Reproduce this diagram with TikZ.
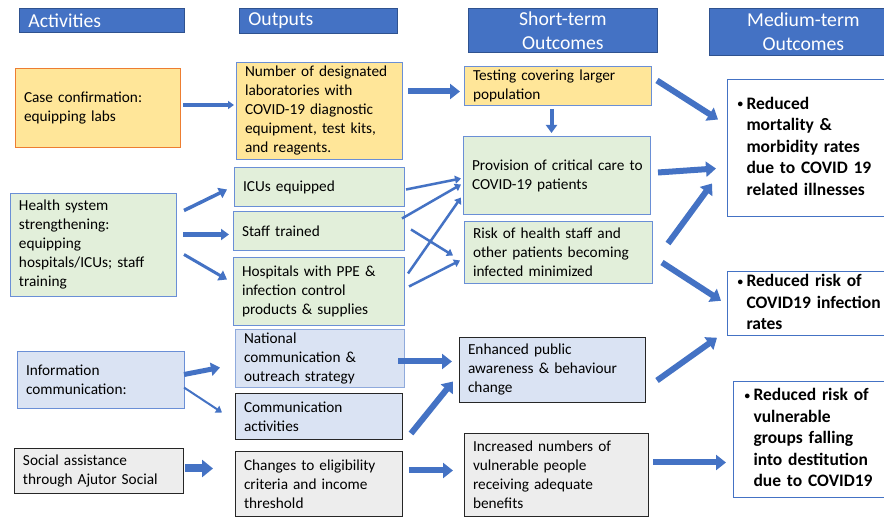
\documentclass[tikz,border=0pt]{standalone}
\usepackage{fontspec}
\setmainfont{Carlito}
\usetikzlibrary{arrows.meta}
\definecolor{hdrblue}{HTML}{4472C4}
\definecolor{hdrline}{HTML}{2F528F}
\definecolor{boxline}{HTML}{6A8FD6}
\definecolor{lightline}{HTML}{8FAADC}
\definecolor{darkline}{HTML}{262626}
\definecolor{labyellow}{HTML}{FFE699}
\definecolor{laborange}{HTML}{ED7D31}
\definecolor{hospgreen}{HTML}{E2EFDA}
\definecolor{infoblue}{HTML}{DAE3F3}
\definecolor{socgray}{HTML}{EDEDED}
\definecolor{arrblue}{HTML}{4472C4}
\newcommand{\smallbul}{\makebox[9pt][l]{\raisebox{1.5pt}{\fontsize{11}{11}\selectfont\textbullet}}}

\begin{document}
\begin{tikzpicture}[x=1pt,y=1pt,
header/.style={draw=hdrline,line width=0.8pt,fill=hdrblue,text=white,anchor=north west,inner xsep=9pt,inner ysep=0pt,font=\fontsize{19.7}{24}\selectfont},
card/.style={draw=boxline,line width=1pt,anchor=north west,inner xsep=8.5pt,inner ysep=0pt,align=left,font=\fontsize{15.3}{19}\selectfont},
result/.style={card,fill=white,draw=hdrblue,inner xsep=10pt,font=\fontsize{17.5}{21.5}\selectfont\bfseries},
thinarr/.style={draw=arrblue,line width=2.5pt,-{Triangle[length=6pt,width=8pt]}},
medarr/.style={draw=arrblue,line width=4pt,-{Triangle[length=8pt,width=11pt]}},
blkarr/.style={draw=arrblue,line width=6pt,-{Triangle[length=10pt,width=15pt]}},
bigarr/.style={draw=arrblue,line width=8pt,-{Triangle[length=11pt,width=17pt]}}]

\fill[white] (0,0) rectangle (884,517);
\useasboundingbox (0,0) rectangle (884,517);

%Headers
\node[header,minimum width=165pt,minimum height=24pt,text width=147pt,align=left] (hAct) at (19,509) {Activities};
\node[header,minimum width=158pt,minimum height=25pt,text width=140pt,align=left] (hOut) at (239,509) {Outputs};
\node[header,minimum width=189pt,minimum height=44pt,text width=171pt,align=center] (hShort) at (468,509) {Short-term\\Outcomes};
\node[header,minimum width=188pt,minimum height=47pt,text width=170pt,align=center] (hMed) at (709,509) {Medium-term\\Outcomes};

%Activities
\node[card,fill=labyellow,draw=laborange,minimum width=165pt,minimum height=79pt,text width=148pt] (caseconf) at (15,449) {Case confirmation:\\equipping labs};
\node[card,fill=hospgreen,minimum width=166pt,minimum height=103pt,text width=149pt] (hsys) at (10,324) {Health system\\strengthening:\\equipping\\hospitals/ICUs; staff\\training};
\node[card,fill=infoblue,minimum width=167pt,minimum height=57pt,text width=150pt] (infocom) at (17,166) {Information\\communication:};
\node[card,fill=socgray,draw=darkline,minimum width=169pt,minimum height=45pt,text width=152pt] (social) at (14,69) {Social assistance\\through Ajutor Social};

%Outputs
\node[card,fill=labyellow,minimum width=166pt,minimum height=97pt,text width=149pt] (labs) at (236,455) {Number of designated\\laboratories with\\COVID-19 diagnostic\\equipment, test kits,\\and reagents.};
\node[card,fill=hospgreen,minimum width=170pt,minimum height=39pt,text width=153pt] (icu) at (234,350) {ICUs equipped};
\node[card,fill=hospgreen,minimum width=171pt,minimum height=39pt,text width=154pt] (staff) at (233,306) {Staff trained};
\node[card,fill=hospgreen,minimum width=171pt,minimum height=68pt,text width=154pt] (ppe) at (233,260) {Hospitals with PPE \&\\infection control\\products \& supplies};
\node[card,fill=infoblue,draw=lightline,minimum width=169pt,minimum height=58pt,text width=152pt] (natcom) at (235,188) {National\\communication \&\\outreach strategy};
\node[card,fill=infoblue,draw=darkline,minimum width=167pt,minimum height=46pt,text width=150pt] (comact) at (235,124) {Communication\\activities};
\node[card,fill=socgray,draw=darkline,minimum width=167pt,minimum height=65pt,text width=150pt] (elig) at (235,66) {Changes to eligibility\\criteria and income\\threshold};

%Short-term outcomes
\node[card,fill=labyellow,minimum width=187pt,minimum height=39pt,text width=170pt] (testing) at (464,451) {Testing covering larger\\population};
\node[card,fill=hospgreen,minimum width=187pt,minimum height=78pt,text width=170pt] (care) at (463,381) {\mbox{Provision of critical care to}\\COVID-19 patients};
\node[card,fill=hospgreen,minimum width=188pt,minimum height=62pt,text width=171pt] (risk) at (464,296) {Risk of health staff and\\other patients becoming\\infected minimized};
\node[card,fill=infoblue,draw=darkline,minimum width=186pt,minimum height=65pt,text width=169pt] (aware) at (459,180) {Enhanced public\\awareness \& behaviour\\change};
\node[card,fill=socgray,draw=darkline,minimum width=184pt,minimum height=83pt,text width=167pt] (benefits) at (464,84) {Increased numbers of\\vulnerable people\\receiving adequate\\benefits};

%Medium-term outcomes
\node[result,minimum width=163pt,minimum height=137pt,text width=150pt] (mort) at (727,438) {\smallbul\begin{tabular}[t]{@{}l@{}}Reduced\\mortality \&\\morbidity rates\\due to COVID 19\\related illnesses\end{tabular}};
\node[result,minimum width=163pt,minimum height=60pt,text width=150pt] (infect) at (727,246) {\smallbul\begin{tabular}[t]{@{}l@{}}Reduced risk of\\COVID19 infection\\rates\end{tabular}};
\node[result,inner xsep=11pt,minimum width=157pt,minimum height=116pt,text width=140pt] (destit) at (733,136) {\smallbul\begin{tabular}[t]{@{}l@{}}Reduced risk of\\vulnerable\\groups falling\\into destitution\\due to COVID19\end{tabular}};

%Arrows into outputs
\draw[thinarr,line width=3.5pt] ([shift={(2,3)}]caseconf.east) -- ([shift={(-2,6)}]labs.west);
\draw[medarr,line width=3.5pt] ([shift={(7,34.5)}]hsys.east) -- ([shift={(-7,-2.5)}]icu.west); \draw[medarr,line width=4.5pt] ([shift={(6,10.5)}]hsys.east) -- ([shift={(-4,-3.5)}]staff.west); \draw[medarr,line width=3pt] ([shift={(7,-9.5)}]hsys.east) -- ([shift={(-6,12)}]ppe.west);
\draw[medarr,line width=5pt,-{Triangle[length=9pt,width=13pt]}] ([shift={(-1,5.5)}]infocom.east) -- ([shift={(-15,-9)}]natcom.west); \draw[thinarr,line width=2pt] ([shift={(-1,-7.5)}]infocom.east) -- ([shift={(-13,4)}]comact.west);
\draw[bigarr] ([shift={(1,2.5)}]social.east) -- ([shift={(-22,15.5)}]elig.west);

%Arrows into short-term outcomes
\draw[blkarr] ([shift={(5,19.5)}]labs.east) -- ([shift={(-4,-5.5)}]testing.west);
\draw[thinarr] ([shift={(1,-2.5)}]icu.east) -- ([shift={(-2,-3)}]care.west); \draw[thinarr] ([shift={(-3,12.5)}]staff.east) -- ([shift={(-2,-9)}]care.west); \draw[thinarr] ([shift={(6,1.5)}]staff.east) -- ([shift={(-11,-3)}]risk.west);
\draw[thinarr] ([shift={(3,18)}]ppe.east) -- ([shift={(-2,-22)}]care.west); \draw[thinarr] ([shift={(4,5)}]ppe.east) -- ([shift={(-4,-8)}]risk.west);
\draw[blkarr] ([shift={(-7,-3)}]natcom.east) -- ([shift={(-7,8.5)}]aware.west); \draw[blkarr] ([shift={(8,-17)}]comact.east) -- ([shift={(-6,-11.5)}]aware.west);
\draw[blkarr] ([shift={(6,13.5)}]elig.east) -- ([shift={(-11,4.5)}]benefits.west);
\draw[medarr] ([shift={(-6.5,-3)}]testing.south) -- ([shift={(-5.5,3)}]care.north);

%Arrows into medium-term outcomes
\draw[blkarr] ([shift={(5,5.5)}]testing.east) -- ([shift={(-9,28.5)}]mort.west); \draw[blkarr] ([shift={(7,3)}]care.east) -- ([shift={(-11,-20.5)}]mort.west); \draw[blkarr] ([shift={(15,9)}]risk.east) -- ([shift={(-15,-35.5)}]mort.west);
\draw[blkarr] ([shift={(9,-10)}]risk.east) -- ([shift={(-6,3)}]infect.west); \draw[blkarr] ([shift={(11,-10.5)}]aware.east) -- ([shift={(-10,-34)}]infect.west);
\draw[blkarr] ([shift={(4,12.5)}]benefits.east) -- ([shift={(-7,-23)}]destit.west);

\end{tikzpicture}
\end{document}
